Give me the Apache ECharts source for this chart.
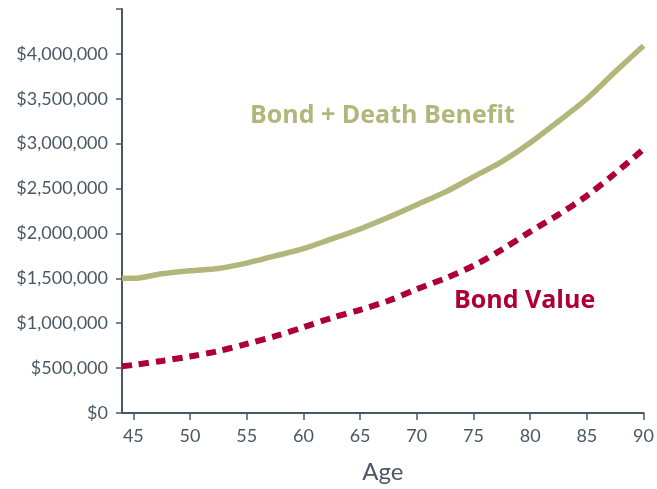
<!DOCTYPE html>
<html><head><meta charset="utf-8">
<script src="https://cdn.jsdelivr.net/npm/echarts@6/dist/echarts.min.js"></script>
<style>html,body{margin:0;padding:0;background:#fff}#c{width:657px;height:489px}</style>
</head><body><div id="c"></div>
<script>
const ages = [44,45,47.5,50,52.5,55,57.5,60,62.5,65,67.5,70,72.5,75,77.5,80,82.5,85,87.5,90];
const deathBenefit = [1500000,1500000,1550000,1585000,1610000,1670000,1750000,1830000,1940000,2050000,2180000,2320000,2460000,2630000,2800000,3010000,3250000,3500000,3800000,4090000];
const bondValue = [520000,535000,580000,630000,690000,770000,855000,955000,1060000,1150000,1250000,1380000,1500000,1640000,1820000,2020000,2210000,2420000,2670000,2940000];
const xTicks = [45,50,55,60,65,70,75,80,85,90];
const yTicks = [0,500000,1000000,1500000,2000000,2500000,3000000,3500000,4000000];
const fmt = v => '$' + v.toLocaleString('en-US');
const axisColor = '#4a5864';
const font = 'Lato, "Open Sans", sans-serif';
const chart = echarts.init(document.getElementById('c'));
chart.setOption({
  animation:false,
  grid:{left:122,right:13,top:9,bottom:76},
  xAxis:{type:'value',min:44,max:90,
    name:'Age',nameLocation:'middle',nameGap:47,
    nameTextStyle:{color:axisColor,fontSize:24,fontFamily:font},
    axisLine:{lineStyle:{color:axisColor,width:2}},
    axisTick:{show:true,length:7,lineStyle:{color:axisColor,width:1.5},customValues:xTicks},
    axisLabel:{color:axisColor,fontSize:18,fontFamily:font,margin:14,customValues:xTicks},
    splitLine:{show:false}},
  yAxis:{type:'value',min:0,max:4500000,interval:500000,
    axisLine:{show:true,lineStyle:{color:axisColor,width:2}},
    axisTick:{show:true,length:6,lineStyle:{color:axisColor,width:1.5}},
    axisLabel:{color:axisColor,fontSize:18,fontFamily:font,margin:14,
      formatter:v=> v>4000000 ? '' : fmt(v)},
    splitLine:{show:false}},
  series:[
    {type:'line',data:ages.map((a,i)=>[a,deathBenefit[i]]),smooth:0.3,showSymbol:false,
      lineStyle:{color:'#b3b67a',width:5.5}},
    {type:'line',data:ages.map((a,i)=>[a,bondValue[i]]),smooth:0.3,showSymbol:false,
      lineStyle:{color:'#ad0034',width:6,type:[10,7]}}
  ],
  graphic:[
    {type:'text',left:250,top:103,style:{text:'Bond + Death Benefit',fill:'#b3b67a',font:'bold 25px "Open Sans", sans-serif'}},
    {type:'text',left:454,top:288,style:{text:'Bond Value',fill:'#ad0034',font:'bold 25px "Open Sans", sans-serif'}}
  ]
});
</script></body></html>
